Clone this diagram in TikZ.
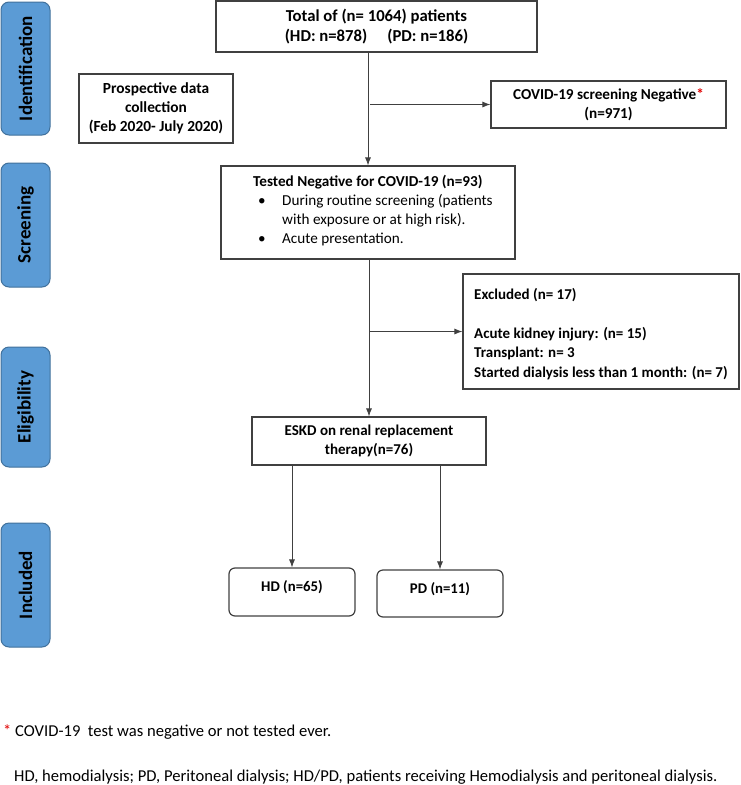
\documentclass[tikz,border=0pt]{standalone}
\usepackage{fontspec}
\setmainfont{Carlito}
\usetikzlibrary{arrows.meta}
\definecolor{tabfill}{HTML}{5B9BD5}
\definecolor{tabline}{HTML}{41719C}
\definecolor{boxline}{HTML}{404040}
\definecolor{starred}{HTML}{E00000}
\begin{document}
\begin{tikzpicture}[x=1pt,y=-1pt,
  tab/.style={draw=tabline, fill=tabfill, line width=1pt, rounded corners=8pt, minimum height=49pt, inner sep=0pt, rotate=90, font=\fontsize{19}{22}\selectfont\bfseries},
  box/.style={draw=boxline, line width=1.2pt, inner sep=0pt, font=\fontsize{15.2}{19}\selectfont\bfseries, align=center},
  rbox/.style={box, rounded corners=6pt, font=\fontsize{14.8}{18}\selectfont\bfseries},
  arr/.style={draw=boxline, line width=0.8pt, -{Latex[length=8pt,width=6pt]}},
  txt/.style={inner sep=0pt, font=\fontsize{15.2}{19}\selectfont},
  foot/.style={inner sep=0pt, font=\fontsize{16.6}{20}\selectfont}]
\useasboundingbox (0,0) rectangle (740,785);
% side tabs
\node[tab, minimum width=133pt] (tabid) at (25.5,68.5) {Identification};
\node[tab, minimum width=124pt] (tabscr) at (25.5,225) {Screening};
\node[tab, minimum width=120pt] (tabel) at (25.5,407) {Eligibility};
\node[tab, minimum width=124pt] (tabinc) at (25.5,585) {Included};
% boxes
\node[box, minimum width=321pt, minimum height=51pt, font=\fontsize{16.7}{19.5}\selectfont\bfseries] (total) at (376.5,26.5)
  {Total of (n= 1064) patients\\(HD: n=878)\hspace{1.2em}(PD: n=186)};
\node[box, minimum width=154pt, minimum height=69pt, font=\fontsize{15.4}{19}\selectfont\bfseries] (prosp) at (156,108.5)
  {Prospective data\\collection\\(Feb 2020- July 2020)};
\node[box, minimum width=235pt, minimum height=47pt] (covid) at (608.5,104.5)
  {COVID-19 screening Negative\textcolor{starred}{*}\\(n=971)};
\node[box, minimum width=294pt, minimum height=93pt] (tested) at (368,212.5) {};
\node[txt, anchor=west] (testedtxt) at (253,211)
  {\begin{tabular}{@{}p{5pt}@{}p{24pt}@{}l@{}}
   \multicolumn{3}{@{}l@{}}{\bfseries Tested Negative for COVID-19 (n=93)}\\
   & \textbullet & During routine screening (patients\\
   & & with exposure or at high risk).\\
   & \textbullet & Acute presentation.
   \end{tabular}};
\node[box, minimum width=276pt, minimum height=115pt] (excl) at (601,331.5) {};
\node[txt, anchor=west, align=left, font=\fontsize{15}{19.5}\selectfont\bfseries] (excltxt) at (474,334)
  {Excluded (n= 17)\\ \mbox{}\\Acute kidney injury: (n= 15)\\Transplant: n= 3\\Started dialysis less than 1 month: (n= 7)};
\node[box, minimum width=234pt, minimum height=48pt, font=\fontsize{15}{19}\selectfont\bfseries] (eskd) at (369,441)
  {ESKD on renal replacement\\therapy(n=76)};
\node[rbox, minimum width=126pt, minimum height=48pt, text height=8pt, text depth=9pt] (hd) at (292,592) {HD (n=65)};
\node[rbox, minimum width=126pt, minimum height=47pt, text height=8pt, text depth=9pt] (pd) at (440,593.5) {PD (n=11)};
% connectors
\coordinate (c1) at (370,104.5);
\coordinate (c2) at (370,331.5);
\draw[arr] (total.south -| tested.north) -- (tested.north);
\draw[arr] (c1) -- (covid.west);
\draw[arr] (tested.south -| eskd.north) -- (eskd.north);
\draw[arr] (c2) -- (excl.west);
\draw[arr] (eskd.south -| hd.north) -- (hd.north);
\draw[arr] (eskd.south -| pd.north) -- (pd.north);
% footnotes
\node[foot, anchor=west] (fn1) at (3,732) {\textcolor{starred}{*} COVID-19\ \ test was negative or not tested ever.};
\node[foot, anchor=west] (fn2) at (14,777) {HD, hemodialysis; PD, Peritoneal dialysis; HD/PD, patients receiving Hemodialysis and peritoneal dialysis.};
\end{tikzpicture}
\end{document}
